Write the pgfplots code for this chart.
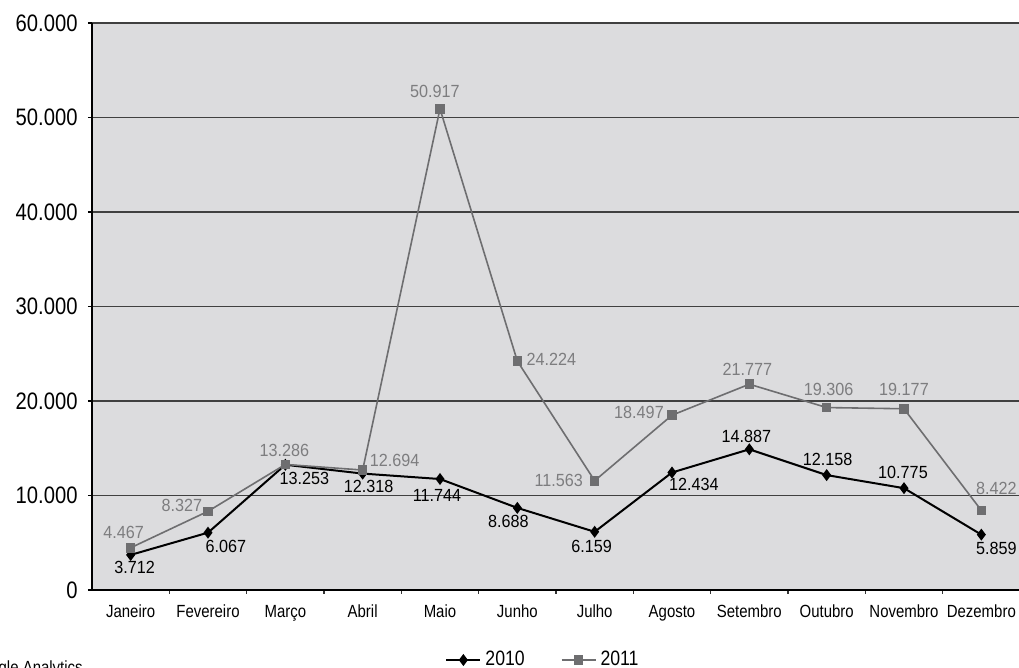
\documentclass[border=0pt]{standalone}
\usepackage{pgfplots}
\pgfplotsset{compat=1.18}
\usepackage{pgfplotstable}
\usepackage{fontspec}
\setmainfont{Liberation Sans}
\newfontfamily\narrowfont[FakeStretch=0.85]{Liberation Sans}
\newfontfamily\labelfont[FakeStretch=0.92]{Liberation Sans}
\definecolor{bgc}{RGB}{220,220,222}
\definecolor{sgray}{RGB}{110,110,112}
\definecolor{lgray}{RGB}{125,125,127}

\pgfplotstableread{
x y dx dy
0.5 3712 2 -6.5
1.5 6067 9 -7
2.5 13253 9.5 -7
3.5 12318 3 -6.5
4.5 11744 -1.5 -8
5.5 8688 -4.5 -7
6.5 6159 -1.5 -7.5
7.5 12434 11 -6
8.5 14887 -1.5 6.5
9.5 12158 0.5 8
10.5 10775 -0.5 8
11.5 5859 7.5 -7
}\tableA

\pgfplotstableread{
x y dx dy
0.5 4467 -3.5 7.5
1.5 8327 -13 3
2.5 13286 -0.5 7
3.5 12694 16 5
4.5 50917 -2.5 8.5
5.5 24224 17 1
6.5 11563 -18 0
7.5 18497 -16.5 1.5
8.5 21777 -1 7.5
9.5 19306 1 9
10.5 19177 0 9.5
11.5 8422 7.5 11
}\tableB

\begin{document}
\begin{tikzpicture}
\begin{axis}[
  at={(46pt,39pt)}, anchor=south west,
  scale only axis, width=464pt, height=283.5pt,
  xmin=0, xmax=12, ymin=0, ymax=60000,
  clip=false,
  axis background/.style={fill=bgc},
  axis x line*=bottom, axis y line*=left,
  axis line style={line width=0.8pt, black},
  xtick={0.5,1.5,...,11.5},
  xticklabels={Janeiro,Fevereiro,Março,Abril,Maio,Junho,Julho,Agosto,Setembro,Outubro,Novembro,Dezembro},
  minor xtick={1,...,11},
  ytick={0,10000,...,60000},
  ymajorgrids,
  major grid style={black!75, line width=0.7pt},
  tick align=outside,
  major tick length=2pt, minor tick length=2pt,
  major x tick style={draw=none},
  minor x tick style={black!80, line width=0.6pt},
  major y tick style={black, line width=0.6pt},
  scaled y ticks=false,
  /pgf/number format/1000 sep={.},
  /pgf/number format/assume math mode=true,
  yticklabel style={font=\narrowfont\fontsize{11.9}{12}\selectfont, inner sep=0pt, xshift=-5pt},
  xticklabel style={font=\narrowfont\fontsize{8.8}{10}\selectfont, inner sep=0pt, yshift=-5pt,
    text height=6.6pt, text depth=1.8pt, anchor=north},
  legend entries={2010,2011},
  legend style={at={(0.487,-0.1235)}, anchor=center, draw=none, fill=none,
    font=\narrowfont\fontsize{10.4}{11}\selectfont, legend columns=2,
    /tikz/every even column/.append style={column sep=16pt}},
]
\addplot[black, line width=1pt, mark=diamond*, mark size=2.2pt, mark options={solid, fill=black},
  nodes near coords,
  visualization depends on={\thisrow{dx} \as \dx},
  visualization depends on={\thisrow{dy} \as \dy},
  every node near coord/.append style={anchor=center, xshift=\dx pt, yshift=\dy pt,
    font=\labelfont\fontsize{8.8}{9}\selectfont, text=black, inner sep=0pt}
] table[x=x,y=y] {\tableA};
\addplot[sgray, line width=0.8pt, mark=square*, mark size=2pt, mark options={solid, fill=sgray},
  nodes near coords,
  visualization depends on={\thisrow{dx} \as \dx},
  visualization depends on={\thisrow{dy} \as \dy},
  every node near coord/.append style={anchor=center, xshift=\dx pt, yshift=\dy pt,
    font=\labelfont\fontsize{8.8}{9}\selectfont, text=lgray, inner sep=0pt}
] table[x=x,y=y] {\tableB};
\end{axis}
\node[anchor=north west, inner sep=0pt, font=\narrowfont\fontsize{8.8}{10}\selectfont] at (-15pt,4pt) {Google Analytics};
\pgfresetboundingbox
\useasboundingbox (0,0) rectangle (509.5pt,334pt);
\end{tikzpicture}
\end{document}
